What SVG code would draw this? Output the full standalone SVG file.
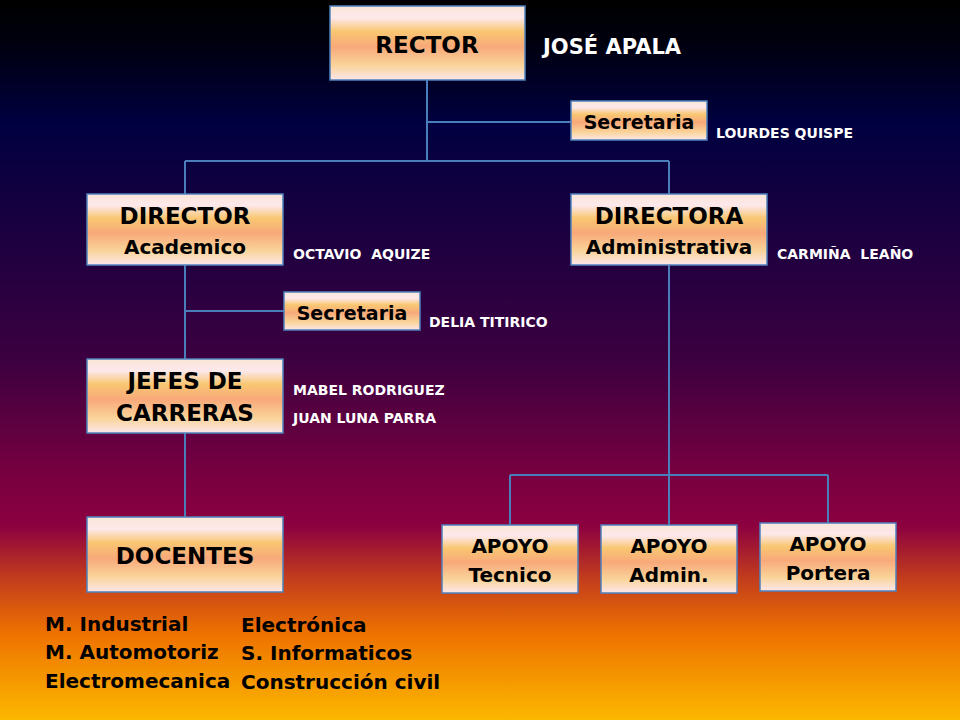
<svg xmlns="http://www.w3.org/2000/svg" width="960" height="720" viewBox="0 0 960 720">
<defs>
<linearGradient id="bg" x1="0" y1="0" x2="0" y2="1">
<stop offset="0" stop-color="#000000"/>
<stop offset="0.06" stop-color="#00000f"/>
<stop offset="0.17" stop-color="#000040"/>
<stop offset="0.35" stop-color="#200040"/>
<stop offset="0.5" stop-color="#3c0040"/>
<stop offset="0.66" stop-color="#780040"/>
<stop offset="0.73" stop-color="#8c0040"/>
<stop offset="0.8" stop-color="#c03a1e"/>
<stop offset="0.88" stop-color="#ee7200"/>
<stop offset="1" stop-color="#fcb800"/>
</linearGradient>
<linearGradient id="box" x1="0" y1="0" x2="0" y2="1">
<stop offset="0" stop-color="#fbe6d8"/>
<stop offset="0.16" stop-color="#fde8ec"/>
<stop offset="0.34" stop-color="#f9c772"/>
<stop offset="0.55" stop-color="#f8a97a"/>
<stop offset="0.8" stop-color="#f9d49a"/>
<stop offset="1" stop-color="#fde6ea"/>
</linearGradient>
<style>
.b{fill:url(#box);stroke:#4f81bd;stroke-width:1.5}
.t{font-family:"DejaVu Sans",sans-serif;font-weight:bold;fill:#000;text-anchor:middle}
.n{font-family:"DejaVu Sans",sans-serif;font-weight:bold;fill:#fff;font-size:14px;white-space:pre}
.l{font-family:"DejaVu Sans",sans-serif;font-weight:bold;fill:#000;font-size:20px}
.c{fill:none;stroke:#4a7ebb;stroke-width:2}
</style>
</defs>
<rect width="960" height="720" fill="url(#bg)"/>
<g id="connectors">
<path class="c" d="M427 80V161M185 161H669M185 161V195M669 161V195M427 122H571"/>
<path class="c" d="M185 265V359M185 311H284M185 433V517"/>
<path class="c" d="M669 265V525M510 475H828M510 475V525M828 475V523"/>
</g>
<g id="rector">
<rect class="b" x="330" y="6" width="195" height="74"/>
<text class="t" x="427" y="53" font-size="23">RECTOR</text>
<text class="n" x="543" y="54" style="font-size:21px;text-anchor:start">JOSÉ APALA</text>
</g>
<g id="secretaria1">
<rect class="b" x="571" y="101" width="136" height="39"/>
<text class="t" x="639" y="129" font-size="19">Secretaria</text>
<text class="n" x="716" y="138">LOURDES QUISPE</text>
</g>
<g id="director">
<rect class="b" x="87" y="194" width="196" height="71"/>
<text class="t" x="185" y="224" font-size="23">DIRECTOR</text>
<text class="t" x="185" y="254" font-size="20">Academico</text>
<text class="n" x="293" y="259">OCTAVIO  AQUIZE</text>
</g>
<g id="directora">
<rect class="b" x="571" y="194" width="196" height="71"/>
<text class="t" x="669" y="224" font-size="23">DIRECTORA</text>
<text class="t" x="669" y="254" font-size="20">Administrativa</text>
<text class="n" x="777" y="259">CARMIÑA  LEAÑO</text>
</g>
<g id="secretaria2">
<rect class="b" x="284" y="292" width="136" height="38"/>
<text class="t" x="352" y="320" font-size="19">Secretaria</text>
<text class="n" x="429" y="327">DELIA TITIRICO</text>
</g>
<g id="jefes">
<rect class="b" x="87" y="359" width="196" height="74"/>
<text class="t" x="185" y="389" font-size="23">JEFES DE</text>
<text class="t" x="185" y="421" font-size="23">CARRERAS</text>
<text class="n" x="293" y="395">MABEL RODRIGUEZ</text>
<text class="n" x="293" y="423">JUAN LUNA PARRA</text>
</g>
<g id="docentes">
<rect class="b" x="87" y="517" width="196" height="75"/>
<text class="t" x="185" y="564" font-size="23">DOCENTES</text>
<text class="l" x="45" y="631">M. Industrial</text>
<text class="l" x="45" y="659">M. Automotoriz</text>
<text class="l" x="45" y="688">Electromecanica</text>
<text class="l" x="241" y="632">Electrónica</text>
<text class="l" x="241" y="660">S. Informaticos</text>
<text class="l" x="241" y="689">Construcción civil</text>
</g>
<g id="apoyo-tecnico">
<rect class="b" x="442" y="525" width="136" height="68"/>
<text class="t" x="510" y="553" font-size="20">APOYO</text>
<text class="t" x="510" y="582" font-size="20">Tecnico</text>
</g>
<g id="apoyo-admin">
<rect class="b" x="601" y="525" width="136" height="68"/>
<text class="t" x="669" y="553" font-size="20">APOYO</text>
<text class="t" x="669" y="582" font-size="20">Admin.</text>
</g>
<g id="apoyo-portera">
<rect class="b" x="760" y="523" width="136" height="68"/>
<text class="t" x="828" y="551" font-size="20">APOYO</text>
<text class="t" x="828" y="580" font-size="20">Portera</text>
</g>
</svg>
